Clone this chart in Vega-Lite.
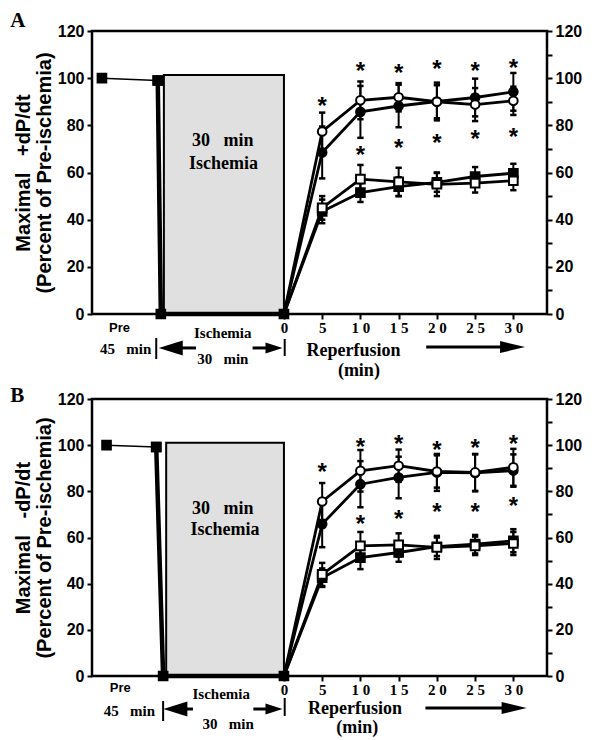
{
  "$schema": "https://vega.github.io/schema/vega-lite/v6.json",
  "background": "white",
  "padding": {"left": 9, "top": 8, "right": 5, "bottom": 5},
  "config": {
    "view": {"stroke": "black", "strokeWidth": 2.5},
    "font": "Liberation Sans"
  },
  "spacing": 85,
  "bounds": "flush",
  "datasets": {
    "series": [
      {"panel": "A", "series": "pre1", "x": -23.8, "y": 100},
      {"panel": "A", "series": "pre1", "x": -16.5, "y": 99},
      {"panel": "A", "series": "pre2", "x": -16.5, "y": 99},
      {"panel": "A", "series": "pre2", "x": -16.1, "y": 0},
      {"panel": "A", "series": "pre2", "x": 0, "y": 0},
      {"panel": "A", "series": "fc", "x": 0, "y": 0},
      {"panel": "A", "series": "fc", "x": 5, "y": 68.5, "lo": 57.5, "hi": 79.5},
      {"panel": "A", "series": "fc", "x": 10, "y": 85.7, "lo": 74.7, "hi": 96.7},
      {"panel": "A", "series": "fc", "x": 15, "y": 88.2, "lo": 79.2, "hi": 97.2},
      {"panel": "A", "series": "fc", "x": 20, "y": 90.1, "lo": 82.1, "hi": 98.1},
      {"panel": "A", "series": "fc", "x": 25, "y": 91.8, "lo": 83.8, "hi": 99.8},
      {"panel": "A", "series": "fc", "x": 30, "y": 94.2, "lo": 86.2, "hi": 102.2},
      {"panel": "A", "series": "fs", "x": 0, "y": 0},
      {"panel": "A", "series": "fs", "x": 5, "y": 43.5, "lo": 38.5, "hi": 48.5},
      {"panel": "A", "series": "fs", "x": 10, "y": 51.5, "lo": 47.5, "hi": 55.5},
      {"panel": "A", "series": "fs", "x": 15, "y": 54, "lo": 50, "hi": 58},
      {"panel": "A", "series": "fs", "x": 20, "y": 55.8, "lo": 51.8, "hi": 59.8},
      {"panel": "A", "series": "fs", "x": 25, "y": 58.3, "lo": 54.3, "hi": 62.3},
      {"panel": "A", "series": "fs", "x": 30, "y": 59.7, "lo": 55.7, "hi": 63.7},
      {"panel": "A", "series": "os", "x": 0, "y": 0},
      {"panel": "A", "series": "os", "x": 5, "y": 45, "lo": 40, "hi": 50},
      {"panel": "A", "series": "os", "x": 10, "y": 57.2, "lo": 51.2, "hi": 63.2},
      {"panel": "A", "series": "os", "x": 15, "y": 56, "lo": 50, "hi": 62},
      {"panel": "A", "series": "os", "x": 20, "y": 55, "lo": 50, "hi": 60},
      {"panel": "A", "series": "os", "x": 25, "y": 55.5, "lo": 51.5, "hi": 59.5},
      {"panel": "A", "series": "os", "x": 30, "y": 56.5, "lo": 52.5, "hi": 60.5},
      {"panel": "A", "series": "oc", "x": 0, "y": 0},
      {"panel": "A", "series": "oc", "x": 5, "y": 77.4, "lo": 69.4, "hi": 85.4},
      {"panel": "A", "series": "oc", "x": 10, "y": 90.6, "lo": 82.6, "hi": 98.6},
      {"panel": "A", "series": "oc", "x": 15, "y": 91.9, "lo": 85.9, "hi": 97.9},
      {"panel": "A", "series": "oc", "x": 20, "y": 90, "lo": 83, "hi": 97},
      {"panel": "A", "series": "oc", "x": 25, "y": 88.8, "lo": 81.8, "hi": 95.8},
      {"panel": "A", "series": "oc", "x": 30, "y": 90.4, "lo": 84.4, "hi": 96.4},
      {"panel": "B", "series": "pre1", "x": -23.2, "y": 100},
      {"panel": "B", "series": "pre1", "x": -16.7, "y": 99.2},
      {"panel": "B", "series": "pre2", "x": -16.7, "y": 99.2},
      {"panel": "B", "series": "pre2", "x": -15.8, "y": 0},
      {"panel": "B", "series": "pre2", "x": 0, "y": 0},
      {"panel": "B", "series": "fc", "x": 0, "y": 0},
      {"panel": "B", "series": "fc", "x": 5, "y": 65.8, "lo": 55.8, "hi": 75.8},
      {"panel": "B", "series": "fc", "x": 10, "y": 83.1, "lo": 73.1, "hi": 93.1},
      {"panel": "B", "series": "fc", "x": 15, "y": 86, "lo": 77, "hi": 95},
      {"panel": "B", "series": "fc", "x": 20, "y": 88.2, "lo": 80.2, "hi": 96.2},
      {"panel": "B", "series": "fc", "x": 25, "y": 88, "lo": 80, "hi": 96},
      {"panel": "B", "series": "fc", "x": 30, "y": 89, "lo": 82, "hi": 96},
      {"panel": "B", "series": "fs", "x": 0, "y": 0},
      {"panel": "B", "series": "fs", "x": 5, "y": 42.6, "lo": 38.6, "hi": 46.6},
      {"panel": "B", "series": "fs", "x": 10, "y": 51.3, "lo": 46.3, "hi": 56.3},
      {"panel": "B", "series": "fs", "x": 15, "y": 53.5, "lo": 49.5, "hi": 57.5},
      {"panel": "B", "series": "fs", "x": 20, "y": 56, "lo": 52, "hi": 60},
      {"panel": "B", "series": "fs", "x": 25, "y": 57.1, "lo": 53.1, "hi": 61.1},
      {"panel": "B", "series": "fs", "x": 30, "y": 58.6, "lo": 53.6, "hi": 63.6},
      {"panel": "B", "series": "os", "x": 0, "y": 0},
      {"panel": "B", "series": "os", "x": 5, "y": 44, "lo": 39, "hi": 49},
      {"panel": "B", "series": "os", "x": 10, "y": 56.4, "lo": 50.4, "hi": 62.4},
      {"panel": "B", "series": "os", "x": 15, "y": 56.8, "lo": 51.8, "hi": 61.8},
      {"panel": "B", "series": "os", "x": 20, "y": 55.7, "lo": 50.7, "hi": 60.7},
      {"panel": "B", "series": "os", "x": 25, "y": 56.4, "lo": 52.4, "hi": 60.4},
      {"panel": "B", "series": "os", "x": 30, "y": 57.4, "lo": 52.4, "hi": 62.4},
      {"panel": "B", "series": "oc", "x": 0, "y": 0},
      {"panel": "B", "series": "oc", "x": 5, "y": 75.6, "lo": 67.6, "hi": 83.6},
      {"panel": "B", "series": "oc", "x": 10, "y": 88.9, "lo": 79.9, "hi": 97.9},
      {"panel": "B", "series": "oc", "x": 15, "y": 91.1, "lo": 84.1, "hi": 98.1},
      {"panel": "B", "series": "oc", "x": 20, "y": 88.6, "lo": 81.6, "hi": 95.6},
      {"panel": "B", "series": "oc", "x": 25, "y": 88.2, "lo": 80.2, "hi": 96.2},
      {"panel": "B", "series": "oc", "x": 30, "y": 90.4, "lo": 82.4, "hi": 98.4}
    ],
    "stars": [
      {"panel": "A", "x": 5, "y": 90.4}, {"panel": "A", "x": 10, "y": 105}, {"panel": "A", "x": 15, "y": 104.5},
      {"panel": "A", "x": 20, "y": 106}, {"panel": "A", "x": 25, "y": 105}, {"panel": "A", "x": 30, "y": 106.6},
      {"panel": "A", "x": 10, "y": 69.5}, {"panel": "A", "x": 15, "y": 72.7}, {"panel": "A", "x": 20, "y": 74.8},
      {"panel": "A", "x": 25, "y": 76.5}, {"panel": "A", "x": 30, "y": 77.2},
      {"panel": "B", "x": 5, "y": 90.4}, {"panel": "B", "x": 10, "y": 101.2}, {"panel": "B", "x": 15, "y": 102.6},
      {"panel": "B", "x": 20, "y": 100.2}, {"panel": "B", "x": 25, "y": 100.8}, {"panel": "B", "x": 30, "y": 102.6},
      {"panel": "B", "x": 10, "y": 68}, {"panel": "B", "x": 15, "y": 70}, {"panel": "B", "x": 20, "y": 73},
      {"panel": "B", "x": 25, "y": 73}, {"panel": "B", "x": 30, "y": 75.9}
    ],
    "box": [
      {"panel": "A", "x": -15.7, "x2": 0, "y": 0, "y2": 101.3},
      {"panel": "B", "x": -15.4, "x2": 0, "y": 0, "y2": 101.1}
    ],
    "boxText": [
      {"panel": "A", "x": -8, "y": 73.4, "text": "30\u00a0\u00a0\u00a0min"},
      {"panel": "A", "x": -7.9, "y": 63.6, "text": "Ischemia"},
      {"panel": "B", "x": -8, "y": 72.3, "text": "30\u00a0\u00a0\u00a0min"},
      {"panel": "B", "x": -7.7, "y": 63.4, "text": "Ischemia"}
    ],
    "preText": [
      {"panel": "A", "x": -21.5, "y": -5.9, "text": "Pre"},
      {"panel": "B", "x": -21.4, "y": -5.2, "text": "Pre"}
    ],
    "smallText": [
      {"panel": "A", "x": -8.0, "y": -8.1, "text": "Ischemia"},
      {"panel": "A", "x": -20.7, "y": -14.8, "text": "45\u00a0\u00a0\u00a0min"},
      {"panel": "A", "x": -8.0, "y": -19.1, "text": "30\u00a0\u00a0\u00a0min"},
      {"panel": "B", "x": -8.2, "y": -7.8, "text": "Ischemia"},
      {"panel": "B", "x": -20.2, "y": -15.2, "text": "45\u00a0\u00a0\u00a0min"},
      {"panel": "B", "x": -7.3, "y": -20.8, "text": "30\u00a0\u00a0\u00a0min"}
    ],
    "bigText": [
      {"panel": "A", "x": 9.1, "y": -15.7, "text": "Reperfusion"},
      {"panel": "A", "x": 9.8, "y": -24.2, "text": "(min)"},
      {"panel": "B", "x": 9.3, "y": -14.3, "text": "Reperfusion"},
      {"panel": "B", "x": 9.6, "y": -22.5, "text": "(min)"}
    ],
    "shafts": [
      {"panel": "A", "x": -14.8, "x2": -11.5, "y": -14.4},
      {"panel": "A", "x": -4.1, "x2": -1.5, "y": -14.4},
      {"panel": "A", "x": 18.6, "x2": 29, "y": -14},
      {"panel": "B", "x": -14.2, "x2": -11.9, "y": -14.3},
      {"panel": "B", "x": -4.0, "x2": -1.3, "y": -14.3},
      {"panel": "B", "x": 18.5, "x2": 29, "y": -13.9}
    ],
    "bars": [
      {"panel": "A", "x": -16.7, "y": -10.2, "y2": -19.1},
      {"panel": "A", "x": 0.1, "y": -10.6, "y2": -17.8},
      {"panel": "B", "x": -15.8, "y": -10.8, "y2": -19.5},
      {"panel": "B", "x": 0.1, "y": -9.5, "y2": -17.3}
    ],
    "heads": [
      {"panel": "A", "x": -14.8, "y": -14.4, "dir": "left"},
      {"panel": "A", "x": -1.3, "y": -14.4, "dir": "right"},
      {"panel": "A", "x": 29.9, "y": -14, "dir": "long"},
      {"panel": "B", "x": -14.2, "y": -14.3, "dir": "left"},
      {"panel": "B", "x": -1.3, "y": -14.3, "dir": "right"},
      {"panel": "B", "x": 30.1, "y": -13.9, "dir": "long"}
    ]
  },
  "vconcat": [
    {
      "title": {"text": "A", "anchor": "start", "frame": "bounds", "font": "Liberation Serif", "fontSize": 21, "fontWeight": "bold", "color": "black", "offset": -8, "dx": -3},
      "width": 455,
      "height": 283,
      "resolve": {"axis": {"y": "independent"}, "scale": {"shape": "independent", "fill": "independent"}},
      "layer": [
        {
          "data": {"name": "box"},
          "transform": [{"filter": "datum.panel == 'A'"}],
          "mark": {"type": "rect", "fill": "#e0e0e0", "stroke": "black", "strokeWidth": 2},
          "encoding": {
            "x": {"field": "x", "type": "quantitative", "scale": {"domain": [-25.1, 34.4], "nice": false, "zero": false},
              "axis": {"values": [0, 2.5, 5, 7.5, 10, 12.5, 15, 17.5, 20, 22.5, 25, 27.5, 30], "title": null, "domain": false, "grid": false,
                "labelExpr": "datum.value % 5 == 0 ? (datum.value >= 10 ? substring(datum.label, 0, 1) + ' ' + substring(datum.label, 1) : datum.label) : ''",
                "labelFont": "Liberation Serif", "labelFontSize": 15, "labelFontWeight": "bold", "labelColor": "black", "labelOverlap": false, "labelFlush": false,
                "tickColor": "black", "tickSize": 5, "tickWidth": 2, "labelPadding": 1}},
            "x2": {"field": "x2"},
            "y": {"field": "y", "type": "quantitative", "scale": {"domain": [0, 120], "nice": false},
              "axis": {"orient": "left", "values": [0, 20, 40, 60, 80, 100, 120], "title": ["Maximal\u00a0\u00a0\u00a0+dP/dt", "(Percent of Pre-ischemia)"],
                "titleFont": "Liberation Sans", "titleFontSize": 20, "titleFontWeight": "bold", "titleColor": "black", "titleLineHeight": 21, "titlePadding": 3,
                "labelFont": "Liberation Sans", "labelFontSize": 16, "labelFontWeight": "bold", "labelColor": "black",
                "tickColor": "black", "tickSize": 5, "tickWidth": 2, "domain": false, "grid": false, "labelPadding": 3}},
            "y2": {"field": "y2"}
          }
        },
        {
          "data": {"name": "boxText"},
          "transform": [{"filter": "datum.panel == 'A'"}],
          "mark": {"type": "text", "font": "Liberation Serif", "fontSize": 18, "fontWeight": "bold", "color": "black", "baseline": "middle"},
          "encoding": {
            "x": {"field": "x", "type": "quantitative", "scale": {"domain": [-25.1, 34.4], "nice": false, "zero": false}},
            "y": {"field": "y", "type": "quantitative", "scale": {"domain": [0, 120], "nice": false}, "axis": null},
            "text": {"field": "text"}
          }
        },
        {
          "data": {"name": "series"},
          "transform": [{"filter": "datum.panel == 'A' && datum.series == 'pre1'"}],
          "mark": {"type": "line", "color": "black", "strokeWidth": 1.5},
          "encoding": {
            "x": {"field": "x", "type": "quantitative", "scale": {"domain": [-25.1, 34.4], "nice": false, "zero": false}},
            "y": {"field": "y", "type": "quantitative", "scale": {"domain": [0, 120], "nice": false},
              "axis": {"orient": "right", "values": [0, 10, 20, 30, 40, 50, 60, 70, 80, 90, 100, 110, 120], "title": null,
                "labelExpr": "datum.value % 20 == 0 ? datum.label : ''",
                "labelFont": "Liberation Sans", "labelFontSize": 16, "labelFontWeight": "bold", "labelColor": "black",
                "tickColor": "black", "tickSize": 5, "tickWidth": 2, "domain": false, "grid": false, "labelPadding": 3}}
          }
        },
        {
          "data": {"name": "series"},
          "transform": [{"filter": "datum.panel == 'A' && datum.series == 'pre2'"}],
          "mark": {"type": "line", "color": "black", "strokeWidth": 4.5},
          "encoding": {
            "x": {"field": "x", "type": "quantitative", "scale": {"domain": [-25.1, 34.4], "nice": false, "zero": false}},
            "y": {"field": "y", "type": "quantitative", "scale": {"domain": [0, 120], "nice": false}, "axis": null}
          }
        },
        {
          "data": {"name": "series"},
          "transform": [{"filter": "datum.panel == 'A' && datum.series != 'pre1' && datum.series != 'pre2'"}],
          "mark": {"type": "line", "color": "black", "strokeWidth": 2.8},
          "encoding": {
            "x": {"field": "x", "type": "quantitative", "scale": {"domain": [-25.1, 34.4], "nice": false, "zero": false}},
            "y": {"field": "y", "type": "quantitative", "scale": {"domain": [0, 120], "nice": false}, "axis": null},
            "detail": {"field": "series"}
          }
        },
        {
          "data": {"name": "series"},
          "transform": [{"filter": "datum.panel == 'A' && isValid(datum.lo)"}],
          "mark": {"type": "rule", "color": "black", "strokeWidth": 2},
          "encoding": {
            "x": {"field": "x", "type": "quantitative", "scale": {"domain": [-25.1, 34.4], "nice": false, "zero": false}},
            "y": {"field": "lo", "type": "quantitative", "scale": {"domain": [0, 120], "nice": false}, "axis": null},
            "y2": {"field": "hi"}
          }
        },
        {
          "data": {"name": "series"},
          "transform": [{"filter": "datum.panel == 'A' && isValid(datum.lo)"}, {"fold": ["lo", "hi"], "as": ["end", "v"]}],
          "mark": {"type": "point", "shape": "M-1,0L1,0", "filled": false, "stroke": "black", "strokeWidth": 2.5, "size": 40, "opacity": 1},
          "encoding": {
            "x": {"field": "x", "type": "quantitative", "scale": {"domain": [-25.1, 34.4], "nice": false, "zero": false}},
            "y": {"field": "v", "type": "quantitative", "scale": {"domain": [0, 120], "nice": false}, "axis": null}
          }
        },
        {
          "data": {"name": "series"},
          "transform": [{"filter": "datum.panel == 'A' && (datum.x != 0 || datum.series == 'pre2')"}],
          "mark": {"type": "point", "filled": true, "stroke": "black", "strokeWidth": 2, "size": 75, "opacity": 1},
          "encoding": {
            "x": {"field": "x", "type": "quantitative", "scale": {"domain": [-25.1, 34.4], "nice": false, "zero": false}},
            "y": {"field": "y", "type": "quantitative", "scale": {"domain": [0, 120], "nice": false}, "axis": null},
            "shape": {"field": "series", "type": "nominal", "legend": null,
              "scale": {"domain": ["pre1", "pre2", "fc", "fs", "os", "oc"], "range": ["square", "square", "circle", "square", "square", "circle"]}},
            "fill": {"field": "series", "type": "nominal", "legend": null,
              "scale": {"domain": ["pre1", "pre2", "fc", "fs", "os", "oc"], "range": ["black", "black", "black", "black", "white", "white"]}}
          }
        },
        {
          "data": {"name": "stars"},
          "transform": [{"filter": "datum.panel == 'A'"}],
          "mark": {"type": "text", "text": "*", "font": "Liberation Sans", "fontSize": 24, "fontWeight": "bold", "color": "black", "baseline": "alphabetic", "dy": 13},
          "encoding": {
            "x": {"field": "x", "type": "quantitative", "scale": {"domain": [-25.1, 34.4], "nice": false, "zero": false}},
            "y": {"field": "y", "type": "quantitative", "scale": {"domain": [0, 120], "nice": false}, "axis": null}
          }
        },
        {
          "data": {"name": "preText"},
          "transform": [{"filter": "datum.panel == 'A'"}],
          "mark": {"type": "text", "font": "Liberation Sans", "fontSize": 13, "fontWeight": "bold", "color": "black", "baseline": "middle"},
          "encoding": {
            "x": {"field": "x", "type": "quantitative", "scale": {"domain": [-25.1, 34.4], "nice": false, "zero": false}},
            "y": {"field": "y", "type": "quantitative", "scale": {"domain": [0, 120], "nice": false}, "axis": null},
            "text": {"field": "text"}
          }
        },
        {
          "data": {"name": "smallText"},
          "transform": [{"filter": "datum.panel == 'A'"}],
          "mark": {"type": "text", "font": "Liberation Serif", "fontSize": 15, "fontWeight": "bold", "color": "black", "baseline": "middle"},
          "encoding": {
            "x": {"field": "x", "type": "quantitative", "scale": {"domain": [-25.1, 34.4], "nice": false, "zero": false}},
            "y": {"field": "y", "type": "quantitative", "scale": {"domain": [0, 120], "nice": false}, "axis": null},
            "text": {"field": "text"}
          }
        },
        {
          "data": {"name": "bigText"},
          "transform": [{"filter": "datum.panel == 'A'"}],
          "mark": {"type": "text", "font": "Liberation Serif", "fontSize": 18, "fontWeight": "bold", "color": "black", "baseline": "middle"},
          "encoding": {
            "x": {"field": "x", "type": "quantitative", "scale": {"domain": [-25.1, 34.4], "nice": false, "zero": false}},
            "y": {"field": "y", "type": "quantitative", "scale": {"domain": [0, 120], "nice": false}, "axis": null},
            "text": {"field": "text"}
          }
        },
        {
          "data": {"name": "shafts"},
          "transform": [{"filter": "datum.panel == 'A'"}],
          "mark": {"type": "rule", "color": "black", "strokeWidth": 3},
          "encoding": {
            "x": {"field": "x", "type": "quantitative", "scale": {"domain": [-25.1, 34.4], "nice": false, "zero": false}},
            "x2": {"field": "x2"},
            "y": {"field": "y", "type": "quantitative", "scale": {"domain": [0, 120], "nice": false}, "axis": null}
          }
        },
        {
          "data": {"name": "bars"},
          "transform": [{"filter": "datum.panel == 'A'"}],
          "mark": {"type": "rule", "color": "black", "strokeWidth": 2},
          "encoding": {
            "x": {"field": "x", "type": "quantitative", "scale": {"domain": [-25.1, 34.4], "nice": false, "zero": false}},
            "y": {"field": "y", "type": "quantitative", "scale": {"domain": [0, 120], "nice": false}, "axis": null},
            "y2": {"field": "y2"}
          }
        },
        {
          "data": {"name": "heads"},
          "transform": [{"filter": "datum.panel == 'A'"}],
          "mark": {"type": "point", "filled": true, "size": 100, "opacity": 1, "strokeWidth": 0},
          "encoding": {
            "x": {"field": "x", "type": "quantitative", "scale": {"domain": [-25.1, 34.4], "nice": false, "zero": false}},
            "y": {"field": "y", "type": "quantitative", "scale": {"domain": [0, 120], "nice": false}, "axis": null},
            "shape": {"field": "dir", "type": "nominal", "legend": null,
              "scale": {"domain": ["left", "right", "long"], "range": ["M2.4,-1.5L-2.4,0L2.4,1.5Z", "M-1.7,-1.1L1.7,0L-1.7,1.1Z", "M-2.5,-1.2L2.5,0L-2.5,1.2Z"]}},
            "color": {"value": "black"}
          }
        }
      ]
    },
    {
      "title": {"text": "B", "anchor": "start", "frame": "bounds", "font": "Liberation Serif", "fontSize": 21, "fontWeight": "bold", "color": "black", "offset": -15, "dx": -3},
      "width": 455,
      "height": 277,
      "resolve": {"axis": {"y": "independent"}, "scale": {"shape": "independent", "fill": "independent"}},
      "layer": [
        {
          "data": {"name": "box"},
          "transform": [{"filter": "datum.panel == 'B'"}],
          "mark": {"type": "rect", "fill": "#e0e0e0", "stroke": "black", "strokeWidth": 2},
          "encoding": {
            "x": {"field": "x", "type": "quantitative", "scale": {"domain": [-25.1, 34.4], "nice": false, "zero": false},
              "axis": {"values": [0, 2.5, 5, 7.5, 10, 12.5, 15, 17.5, 20, 22.5, 25, 27.5, 30], "title": null, "domain": false, "grid": false,
                "labelExpr": "datum.value % 5 == 0 ? (datum.value >= 10 ? substring(datum.label, 0, 1) + ' ' + substring(datum.label, 1) : datum.label) : ''",
                "labelFont": "Liberation Serif", "labelFontSize": 15, "labelFontWeight": "bold", "labelColor": "black", "labelOverlap": false, "labelFlush": false,
                "tickColor": "black", "tickSize": 5, "tickWidth": 2, "labelPadding": 1}},
            "x2": {"field": "x2"},
            "y": {"field": "y", "type": "quantitative", "scale": {"domain": [0, 120], "nice": false},
              "axis": {"orient": "left", "values": [0, 20, 40, 60, 80, 100, 120], "title": ["Maximal\u00a0\u00a0\u00a0-dP/dt", "(Percent of Pre-ischemia)"],
                "titleFont": "Liberation Sans", "titleFontSize": 20, "titleFontWeight": "bold", "titleColor": "black", "titleLineHeight": 21, "titlePadding": 3,
                "labelFont": "Liberation Sans", "labelFontSize": 16, "labelFontWeight": "bold", "labelColor": "black",
                "tickColor": "black", "tickSize": 5, "tickWidth": 2, "domain": false, "grid": false, "labelPadding": 3}},
            "y2": {"field": "y2"}
          }
        },
        {
          "data": {"name": "boxText"},
          "transform": [{"filter": "datum.panel == 'B'"}],
          "mark": {"type": "text", "font": "Liberation Serif", "fontSize": 18, "fontWeight": "bold", "color": "black", "baseline": "middle"},
          "encoding": {
            "x": {"field": "x", "type": "quantitative", "scale": {"domain": [-25.1, 34.4], "nice": false, "zero": false}},
            "y": {"field": "y", "type": "quantitative", "scale": {"domain": [0, 120], "nice": false}, "axis": null},
            "text": {"field": "text"}
          }
        },
        {
          "data": {"name": "series"},
          "transform": [{"filter": "datum.panel == 'B' && datum.series == 'pre1'"}],
          "mark": {"type": "line", "color": "black", "strokeWidth": 1.5},
          "encoding": {
            "x": {"field": "x", "type": "quantitative", "scale": {"domain": [-25.1, 34.4], "nice": false, "zero": false}},
            "y": {"field": "y", "type": "quantitative", "scale": {"domain": [0, 120], "nice": false},
              "axis": {"orient": "right", "values": [0, 10, 20, 30, 40, 50, 60, 70, 80, 90, 100, 110, 120], "title": null,
                "labelExpr": "datum.value % 20 == 0 ? datum.label : ''",
                "labelFont": "Liberation Sans", "labelFontSize": 16, "labelFontWeight": "bold", "labelColor": "black",
                "tickColor": "black", "tickSize": 5, "tickWidth": 2, "domain": false, "grid": false, "labelPadding": 3}}
          }
        },
        {
          "data": {"name": "series"},
          "transform": [{"filter": "datum.panel == 'B' && datum.series == 'pre2'"}],
          "mark": {"type": "line", "color": "black", "strokeWidth": 4.5},
          "encoding": {
            "x": {"field": "x", "type": "quantitative", "scale": {"domain": [-25.1, 34.4], "nice": false, "zero": false}},
            "y": {"field": "y", "type": "quantitative", "scale": {"domain": [0, 120], "nice": false}, "axis": null}
          }
        },
        {
          "data": {"name": "series"},
          "transform": [{"filter": "datum.panel == 'B' && datum.series != 'pre1' && datum.series != 'pre2'"}],
          "mark": {"type": "line", "color": "black", "strokeWidth": 2.8},
          "encoding": {
            "x": {"field": "x", "type": "quantitative", "scale": {"domain": [-25.1, 34.4], "nice": false, "zero": false}},
            "y": {"field": "y", "type": "quantitative", "scale": {"domain": [0, 120], "nice": false}, "axis": null},
            "detail": {"field": "series"}
          }
        },
        {
          "data": {"name": "series"},
          "transform": [{"filter": "datum.panel == 'B' && isValid(datum.lo)"}],
          "mark": {"type": "rule", "color": "black", "strokeWidth": 2},
          "encoding": {
            "x": {"field": "x", "type": "quantitative", "scale": {"domain": [-25.1, 34.4], "nice": false, "zero": false}},
            "y": {"field": "lo", "type": "quantitative", "scale": {"domain": [0, 120], "nice": false}, "axis": null},
            "y2": {"field": "hi"}
          }
        },
        {
          "data": {"name": "series"},
          "transform": [{"filter": "datum.panel == 'B' && isValid(datum.lo)"}, {"fold": ["lo", "hi"], "as": ["end", "v"]}],
          "mark": {"type": "point", "shape": "M-1,0L1,0", "filled": false, "stroke": "black", "strokeWidth": 2.5, "size": 40, "opacity": 1},
          "encoding": {
            "x": {"field": "x", "type": "quantitative", "scale": {"domain": [-25.1, 34.4], "nice": false, "zero": false}},
            "y": {"field": "v", "type": "quantitative", "scale": {"domain": [0, 120], "nice": false}, "axis": null}
          }
        },
        {
          "data": {"name": "series"},
          "transform": [{"filter": "datum.panel == 'B' && (datum.x != 0 || datum.series == 'pre2')"}],
          "mark": {"type": "point", "filled": true, "stroke": "black", "strokeWidth": 2, "size": 75, "opacity": 1},
          "encoding": {
            "x": {"field": "x", "type": "quantitative", "scale": {"domain": [-25.1, 34.4], "nice": false, "zero": false}},
            "y": {"field": "y", "type": "quantitative", "scale": {"domain": [0, 120], "nice": false}, "axis": null},
            "shape": {"field": "series", "type": "nominal", "legend": null,
              "scale": {"domain": ["pre1", "pre2", "fc", "fs", "os", "oc"], "range": ["square", "square", "circle", "square", "square", "circle"]}},
            "fill": {"field": "series", "type": "nominal", "legend": null,
              "scale": {"domain": ["pre1", "pre2", "fc", "fs", "os", "oc"], "range": ["black", "black", "black", "black", "white", "white"]}}
          }
        },
        {
          "data": {"name": "stars"},
          "transform": [{"filter": "datum.panel == 'B'"}],
          "mark": {"type": "text", "text": "*", "font": "Liberation Sans", "fontSize": 24, "fontWeight": "bold", "color": "black", "baseline": "alphabetic", "dy": 13},
          "encoding": {
            "x": {"field": "x", "type": "quantitative", "scale": {"domain": [-25.1, 34.4], "nice": false, "zero": false}},
            "y": {"field": "y", "type": "quantitative", "scale": {"domain": [0, 120], "nice": false}, "axis": null}
          }
        },
        {
          "data": {"name": "preText"},
          "transform": [{"filter": "datum.panel == 'B'"}],
          "mark": {"type": "text", "font": "Liberation Sans", "fontSize": 13, "fontWeight": "bold", "color": "black", "baseline": "middle"},
          "encoding": {
            "x": {"field": "x", "type": "quantitative", "scale": {"domain": [-25.1, 34.4], "nice": false, "zero": false}},
            "y": {"field": "y", "type": "quantitative", "scale": {"domain": [0, 120], "nice": false}, "axis": null},
            "text": {"field": "text"}
          }
        },
        {
          "data": {"name": "smallText"},
          "transform": [{"filter": "datum.panel == 'B'"}],
          "mark": {"type": "text", "font": "Liberation Serif", "fontSize": 15, "fontWeight": "bold", "color": "black", "baseline": "middle"},
          "encoding": {
            "x": {"field": "x", "type": "quantitative", "scale": {"domain": [-25.1, 34.4], "nice": false, "zero": false}},
            "y": {"field": "y", "type": "quantitative", "scale": {"domain": [0, 120], "nice": false}, "axis": null},
            "text": {"field": "text"}
          }
        },
        {
          "data": {"name": "bigText"},
          "transform": [{"filter": "datum.panel == 'B'"}],
          "mark": {"type": "text", "font": "Liberation Serif", "fontSize": 18, "fontWeight": "bold", "color": "black", "baseline": "middle"},
          "encoding": {
            "x": {"field": "x", "type": "quantitative", "scale": {"domain": [-25.1, 34.4], "nice": false, "zero": false}},
            "y": {"field": "y", "type": "quantitative", "scale": {"domain": [0, 120], "nice": false}, "axis": null},
            "text": {"field": "text"}
          }
        },
        {
          "data": {"name": "shafts"},
          "transform": [{"filter": "datum.panel == 'B'"}],
          "mark": {"type": "rule", "color": "black", "strokeWidth": 3},
          "encoding": {
            "x": {"field": "x", "type": "quantitative", "scale": {"domain": [-25.1, 34.4], "nice": false, "zero": false}},
            "x2": {"field": "x2"},
            "y": {"field": "y", "type": "quantitative", "scale": {"domain": [0, 120], "nice": false}, "axis": null}
          }
        },
        {
          "data": {"name": "bars"},
          "transform": [{"filter": "datum.panel == 'B'"}],
          "mark": {"type": "rule", "color": "black", "strokeWidth": 2},
          "encoding": {
            "x": {"field": "x", "type": "quantitative", "scale": {"domain": [-25.1, 34.4], "nice": false, "zero": false}},
            "y": {"field": "y", "type": "quantitative", "scale": {"domain": [0, 120], "nice": false}, "axis": null},
            "y2": {"field": "y2"}
          }
        },
        {
          "data": {"name": "heads"},
          "transform": [{"filter": "datum.panel == 'B'"}],
          "mark": {"type": "point", "filled": true, "size": 100, "opacity": 1, "strokeWidth": 0},
          "encoding": {
            "x": {"field": "x", "type": "quantitative", "scale": {"domain": [-25.1, 34.4], "nice": false, "zero": false}},
            "y": {"field": "y", "type": "quantitative", "scale": {"domain": [0, 120], "nice": false}, "axis": null},
            "shape": {"field": "dir", "type": "nominal", "legend": null,
              "scale": {"domain": ["left", "right", "long"], "range": ["M2.4,-1.5L-2.4,0L2.4,1.5Z", "M-1.7,-1.1L1.7,0L-1.7,1.1Z", "M-2.5,-1.2L2.5,0L-2.5,1.2Z"]}},
            "color": {"value": "black"}
          }
        }
      ]
    }
  ]
}
